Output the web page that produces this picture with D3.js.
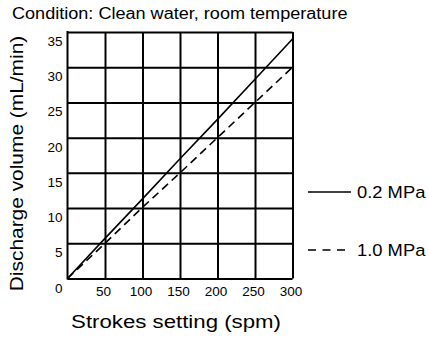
<!DOCTYPE html>
<html>
<head>
<meta charset="utf-8">
<script src="https://cdn.jsdelivr.net/npm/d3@7"></script>
<style>
  body { margin: 0; background: #fff; }
  svg { display: block; }
  text { font-family: "Liberation Sans", Arial, Helvetica, sans-serif; fill: #000; }
</style>
</head>
<body>
<script>
// Discharge volume vs. stroke setting at two discharge pressures
const strokes = [0, 50, 100, 150, 200, 250, 300];
const flowAt02MPa = [0, 5.7, 11.3, 17.0, 22.6, 28.3, 34.0];
const flowAt10MPa = [0, 5.0, 10.1, 15.0, 20.0, 25.0, 30.0];
const seriesNames = ["0.2 MPa", "1.0 MPa"];
const xTickValues = [50, 100, 150, 200, 250, 300];
const yTickValues = [0, 5, 10, 15, 20, 25, 30, 35];
const conditionText = "Condition: Clean water, room temperature";
const xTitle = "Strokes setting (spm)";
const yTitle = "Discharge volume (mL/min)";

const W = 428, H = 337;
const plot = { left: 67.5, right: 292.5, top: 32, bottom: 278.5 };

const svg = d3.select("body").append("svg")
  .attr("width", W).attr("height", H);

const x = d3.scaleLinear().domain([0, 300]).range([plot.left, plot.right]);
const y = d3.scaleLinear().domain([0, 35]).range([plot.bottom, plot.top]);

// Grid: vertical lines from a bottom axis, horizontal lines from a left axis
const xAxis = d3.axisBottom(x)
  .tickValues(xTickValues)
  .tickSizeInner(-(plot.bottom - plot.top))
  .tickSizeOuter(0)
  .tickPadding(8);
const gx = svg.append("g")
  .attr("transform", `translate(0,${plot.bottom})`)
  .call(xAxis);
gx.select(".domain").remove();
gx.selectAll(".tick line").attr("stroke", "#000").attr("stroke-width", 2);
gx.selectAll(".tick text")
  .attr("font-size", 13.5)
  .attr("dx", -2)
  .attr("dy", "0.71em");

const yAxis = d3.axisLeft(y)
  .tickValues(yTickValues)
  .tickSizeInner(-(plot.right - plot.left))
  .tickSizeOuter(0)
  .tickPadding(5);
const gy = svg.append("g")
  .attr("transform", `translate(${plot.left},0)`)
  .call(yAxis);
gy.select(".domain").remove();
gy.selectAll(".tick line").attr("stroke", "#000").attr("stroke-width", 2);
gy.selectAll(".tick text")
  .attr("font-size", 13.5)
  .attr("dy", "1.0em");

// Left border (x = 0)
svg.append("line")
  .attr("x1", x(0)).attr("x2", x(0))
  .attr("y1", y(35) - 1).attr("y2", y(0) + 1)
  .attr("stroke", "#000").attr("stroke-width", 2);

// Series lines
const line = d3.line()
  .x((d, i) => x(strokes[i]))
  .y(d => y(d));

svg.append("path")
  .datum(flowAt02MPa)
  .attr("d", line)
  .attr("fill", "none")
  .attr("stroke", "#000")
  .attr("stroke-width", 1.6);

svg.append("path")
  .datum(flowAt10MPa)
  .attr("d", line)
  .attr("fill", "none")
  .attr("stroke", "#000")
  .attr("stroke-width", 1.6)
  .attr("stroke-dasharray", "8,5");

// Wide-set label helper: text placed at (px, py), stretched horizontally by sx
function wideText(parent, px, py, sx, size, str, anchor, rotate) {
  const g = parent.append("g")
    .attr("transform", `translate(${px},${py})` + (rotate ? ` rotate(${rotate})` : "") + ` scale(${sx},1)`);
  return g.append("text")
    .attr("font-size", size)
    .attr("text-anchor", anchor || "start")
    .text(str);
}

// Legend
const legendRows = [
  { name: seriesNames[0], y: 192, dash: null },
  { name: seriesNames[1], y: 250, dash: "8,6.5" }
];
legendRows.forEach(r => {
  svg.append("line")
    .attr("x1", 308).attr("x2", r.dash ? 346 : 351)
    .attr("y1", r.y).attr("y2", r.y)
    .attr("stroke", "#000").attr("stroke-width", 1.6)
    .attr("stroke-dasharray", r.dash);
  wideText(svg, 357, r.y + 6, 1.08, 17, r.name);
});

// Titles
wideText(svg, 12, 19, 1.13, 16, conditionText);
wideText(svg, (plot.left + plot.right) / 2 - 4, 328, 1.17, 19, xTitle, "middle");
wideText(svg, 23, 163.5, 1.1, 19, yTitle, "middle", -90);
</script>
</body>
</html>
